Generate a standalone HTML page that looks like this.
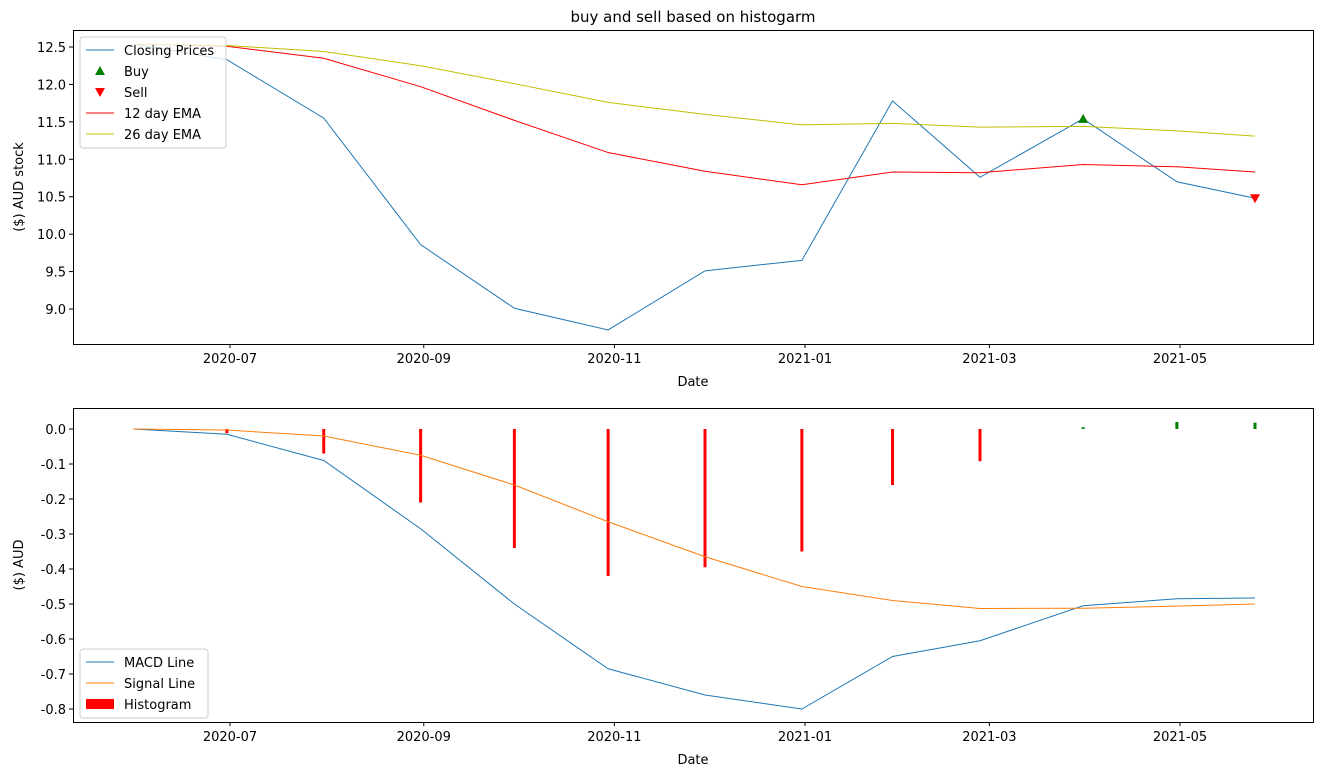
<!DOCTYPE html>
<html><head><meta charset="utf-8"><style>
body{margin:0;background:#fff;}
svg{display:block;font-family:"DejaVu Sans","Liberation Sans",sans-serif;}
</style></head><body>
<svg id="c" width="1323" height="776"></svg>
<script>
const dates=["2020-05-31","2020-06-30","2020-07-31","2020-08-31","2020-09-30","2020-10-30","2020-11-30","2020-12-31","2021-01-29","2021-02-26","2021-03-31","2021-04-30","2021-05-25"];
const closing=[12.54,12.33,11.55,9.86,9.01,8.72,9.51,9.65,11.78,10.76,11.54,10.70,10.48];
const ema12=[12.54,12.51,12.35,11.97,11.52,11.09,10.84,10.66,10.83,10.82,10.93,10.90,10.83];
const ema26=[12.54,12.52,12.44,12.25,12.01,11.76,11.60,11.46,11.48,11.43,11.44,11.38,11.31];
const buyIdx=[10];
const sellIdx=[12];
const macd=[0,-0.015,-0.09,-0.285,-0.5,-0.685,-0.76,-0.8,-0.65,-0.605,-0.505,-0.485,-0.483];
const signal=[0,-0.003,-0.02,-0.075,-0.16,-0.265,-0.365,-0.45,-0.49,-0.513,-0.512,-0.506,-0.5];
const hist=[0,-0.012,-0.07,-0.21,-0.34,-0.42,-0.395,-0.35,-0.16,-0.092,0.005,0.02,0.018];
const xTicks=["2020-07","2020-09","2020-11","2021-01","2021-03","2021-05"];
const yTicksTop=[9.0,9.5,10.0,10.5,11.0,11.5,12.0,12.5];
const yTicksBot=[-0.8,-0.7,-0.6,-0.5,-0.4,-0.3,-0.2,-0.1,0.0];

const svg=document.getElementById('c');
const NS="http://www.w3.org/2000/svg";
function mk(t,a,p){const e=document.createElementNS(NS,t);for(const k in a)e.setAttribute(k,a[k]);(p||svg).appendChild(e);return e;}
const d0=Date.parse("2020-07-01");
function x(ds){return 230+(Date.parse(ds.length==7?ds+"-01":ds)-d0)/86400000*3.125;}
function yT(v){return 47+(12.5-v)*74.86;}
function yB(v){return 429-v*350;}

function axes(top,bot,yt,ys,ylab,name){
  const fr=mk('rect',{x:73.5,y:top+0.5,width:1240,height:bot-top,fill:'none',stroke:'#000','stroke-width':1});
  
  xTicks.forEach(t=>{const xx=x(t);
    mk('line',{x1:xx,x2:xx,y1:bot+0.5,y2:bot+4,stroke:'#000'});
    const tx=mk('text',{x:xx,y:bot+19,'font-size':13,'text-anchor':'middle'});tx.textContent=t;
    });
  yt.forEach(v=>{const yy=ys(v);
    mk('line',{x1:69,x2:73.5,y1:yy,y2:yy,stroke:'#000'});
    const tx=mk('text',{x:66,y:yy+5,'font-size':13,'text-anchor':'end'});tx.textContent=v.toFixed(1);
    });
  const xl=mk('text',{x:693,y:bot+42,'font-size':13,'text-anchor':'middle'});xl.textContent='Date';
  
  const cy=(top+bot)/2;
  const yl=mk('text',{x:23,y:cy,'font-size':13,'text-anchor':'middle',transform:`rotate(-90 23 ${cy})`});yl.textContent=ylab;
  
}
function line(vals,ys,col,name){
  const p=mk('polyline',{points:vals.map((v,i)=>x(dates[i])+','+ys(v)).join(' '),fill:'none',stroke:col,'stroke-width':1});
  
}
const t=mk('text',{x:693,y:22,'font-size':15,'text-anchor':'middle'});t.textContent='buy and sell based on histogarm';


axes(30,344,yTicksTop,yT,'($) AUD stock','top-axes');
line(closing,yT,'#1f77b4','closing-line');
line(ema12,yT,'#ff0000','ema12-line');
line(ema26,yT,'#bfbf00','ema26-line');
buyIdx.forEach(i=>{const xx=x(dates[i]),yy=yT(closing[i]);
  const m=mk('polygon',{points:`${xx-5},${yy+4} ${xx+5},${yy+4} ${xx},${yy-5}`,fill:'green'});
  });
sellIdx.forEach(i=>{const xx=x(dates[i]),yy=yT(closing[i]);
  const m=mk('polygon',{points:`${xx-5},${yy-4} ${xx+5},${yy-4} ${xx},${yy+5}`,fill:'red'});
  });

axes(408,722,yTicksBot,yB,'($) AUD','bottom-axes');
hist.forEach((v,i)=>{const xx=x(dates[i]);
  const r=mk('rect',{x:xx-1.5,y:Math.min(yB(v),yB(0)),width:3,height:Math.abs(yB(v)-yB(0)),fill:v<0?'red':'green'});
  });
line(macd,yB,'#1f77b4','macd-line');
line(signal,yB,'#ff7f0e','signal-line');

function legend(x0,y0,w,items,name){
  const g=mk('g',{});
  mk('rect',{x:x0,y:y0,width:w,height:items.length*21+6,rx:3,fill:'#fff','fill-opacity':0.8,stroke:'#ccc'},g);
  items.forEach((it,k)=>{const yy=y0+13+k*21;
    if(it.t=='line')mk('line',{x1:x0+6,x2:x0+34,y1:yy,y2:yy,stroke:it.c},g);
    else if(it.t=='up')mk('polygon',{points:`${x0+15},${yy+4} ${x0+25},${yy+4} ${x0+20},${yy-5}`,fill:it.c},g);
    else if(it.t=='down')mk('polygon',{points:`${x0+15},${yy-4} ${x0+25},${yy-4} ${x0+20},${yy+5}`,fill:it.c},g);
    else mk('rect',{x:x0+6,y:yy-5,width:28,height:10,fill:it.c},g);
    const tx=mk('text',{x:x0+44,y:yy+5,'font-size':13},g);tx.textContent=it.l;});
}
legend(80,37,146,[{t:'line',c:'#1f77b4',l:'Closing Prices'},{t:'up',c:'green',l:'Buy'},{t:'down',c:'red',l:'Sell'},{t:'line',c:'red',l:'12 day EMA'},{t:'line',c:'#bfbf00',l:'26 day EMA'}],'top-legend');
legend(80,649,128,[{t:'line',c:'#1f77b4',l:'MACD Line'},{t:'line',c:'#ff7f0e',l:'Signal Line'},{t:'rect',c:'red',l:'Histogram'}],'bottom-legend');
</script>
</body></html>
